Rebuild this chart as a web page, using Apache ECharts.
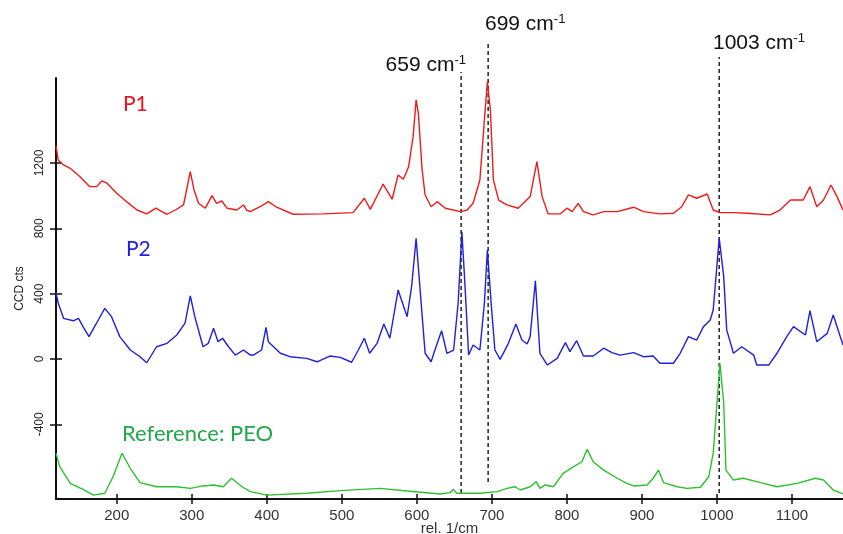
<!DOCTYPE html>
<html>
<head>
<meta charset="utf-8">
<script src="https://cdn.jsdelivr.net/npm/echarts@6/dist/echarts.min.js"></script>
<style>
  html, body { margin: 0; padding: 0; background: #fff; }
  #main { width: 843px; height: 534px; }
</style>
</head>
<body>
<div id="main"></div>
<script>
// Raman spectra, [wavenumber (rel. 1/cm), CCD counts]
var p1Points = [
  [119, 1304], [122, 1218], [129, 1188], [138, 1167], [151, 1116], [164, 1055], [173, 1055],
  [180, 1090], [187, 1076], [200, 1014], [213, 963], [227, 912], [240, 888], [252, 923],
  [260, 902], [267, 886], [278, 912], [289, 943], [298, 1147], [303, 1035], [309, 953],
  [318, 923], [327, 1000], [333, 953], [340, 967], [347, 923], [360, 912], [369, 943],
  [373, 912], [378, 902], [391, 932], [402, 963], [413, 929], [435, 886], [475, 888],
  [515, 896], [530, 984], [538, 916], [555, 1071], [567, 978], [575, 1126], [582, 1100],
  [589, 1177], [595, 1361], [599, 1586], [602, 1504], [607, 1157], [611, 1004], [619, 932],
  [627, 963], [629, 969], [638, 923], [658, 902], [667, 912], [675, 953], [684, 1096],
  [690, 1463], [694, 1698], [698, 1524], [702, 1096], [709, 973], [720, 943], [735, 923],
  [742, 953], [751, 994], [760, 1208], [767, 994], [775, 888], [791, 888], [800, 923],
  [807, 902], [815, 953], [822, 902], [835, 882], [849, 902], [867, 902], [889, 929],
  [902, 902], [924, 888], [942, 892], [953, 932], [962, 1004], [973, 984], [987, 1010],
  [995, 912], [1004, 896], [1022, 896], [1040, 892], [1071, 882], [1084, 912], [1098, 973],
  [1115, 973], [1124, 1055], [1133, 932], [1142, 973], [1152, 1065], [1160, 994], [1168, 912]
];

var p2Points = [
  [119, 406], [122, 341], [129, 249], [142, 234], [149, 249], [155, 198], [163, 137],
  [173, 219], [184, 310], [193, 259], [204, 137], [218, 55], [231, 14], [240, -23],
  [253, 75], [267, 96], [280, 147], [291, 219], [298, 386], [304, 259], [315, 75],
  [322, 96], [329, 188], [335, 106], [341, 127], [349, 75], [358, 24], [369, 55],
  [378, 24], [382, 24], [393, 55], [399, 194], [402, 106], [409, 75], [418, 35],
  [431, 14], [453, 4], [467, -17], [484, 18], [498, 10], [513, -20], [522, 55],
  [530, 127], [537, 35], [547, 96], [556, 214], [564, 127], [575, 422], [587, 259],
  [593, 443], [599, 739], [604, 443], [611, 35], [619, -17], [624, 55], [633, 173],
  [640, 35], [649, 55], [655, 341], [660, 779], [664, 463], [669, 24], [675, 86],
  [684, 55], [690, 341], [694, 667], [699, 341], [704, 55], [711, -2], [722, 96],
  [732, 214], [740, 116], [747, 92], [751, 137], [758, 479], [764, 35], [774, -37],
  [787, 4], [798, 100], [804, 45], [813, 112], [822, 18], [835, 18], [849, 66],
  [860, 39], [871, 24], [889, 39], [902, 14], [915, 18], [924, -26], [942, -26],
  [951, 35], [962, 137], [973, 116], [982, 198], [991, 239], [995, 300], [1003, 739],
  [1009, 504], [1013, 178], [1022, 35], [1033, 75], [1049, 24], [1053, -37], [1069, -37],
  [1080, 35], [1093, 137], [1102, 198], [1118, 147], [1124, 296], [1133, 106], [1147, 157],
  [1155, 269], [1168, 86]
];

var peoPoints = [
  [119, -577], [124, -659], [138, -761], [155, -798], [169, -833], [184, -822], [195, -721],
  [207, -577], [218, -669], [231, -757], [253, -782], [280, -782], [298, -792], [315, -777],
  [329, -771], [342, -782], [353, -730], [367, -782], [378, -812], [400, -833], [453, -822],
  [498, -806], [551, -792], [587, -808], [631, -826], [644, -818], [649, -798], [653, -822],
  [684, -822], [707, -812], [720, -792], [731, -782], [738, -802], [751, -782], [759, -751],
  [764, -792], [771, -771], [782, -782], [795, -700], [809, -659], [820, -629], [827, -553],
  [835, -629], [849, -680], [867, -730], [880, -761], [889, -777], [907, -771], [915, -730],
  [922, -680], [929, -757], [947, -782], [960, -792], [978, -785], [989, -721], [995, -577],
  [1000, -271], [1004, -26], [1009, -271], [1012, -680], [1022, -741], [1035, -730],
  [1058, -757], [1080, -782], [1107, -761], [1131, -730], [1142, -741], [1155, -802], [1168, -826]
];

// dashed marker lines: wavenumber, bottom and top of the dash
var markerWavenumbers = [659, 695, 1003];
var markerBottoms = [-820, -753, -820];
var markerTops = [1757, 1947, 1849];

var xTicks = [200, 300, 400, 500, 600, 700, 800, 900, 1000, 1100];
var yTicks = [-400, 0, 400, 800, 1200];

var chart = echarts.init(document.getElementById('main'), null, { renderer: 'canvas' });

var markerSeries = markerWavenumbers.map(function (w, i) {
  return {
    type: 'line',
    xAxisIndex: 2,
    yAxisIndex: 2,
    data: [[w, markerBottoms[i]], [w, markerTops[i]]],
    symbol: 'none',
    silent: true,
    lineStyle: { color: '#222', width: 1.5, type: [4, 3] },
    z: 1
  };
});

var axisFont = 'Liberation Sans, Arial, sans-serif';
var plain = function (v) { return String(v); };

var option = {
  backgroundColor: '#fff',
  animation: false,
  grid: [
    { left: 56, right: 0, top: 78, bottom: 35, outerBoundsMode: 'none', containLabel: false },
    { left: 56, right: 0, top: 30, bottom: 35, outerBoundsMode: 'none', containLabel: false }
  ],
  xAxis: [
    {
      type: 'value', gridIndex: 0, position: 'bottom',
      min: 119, max: 1168,
      name: 'rel. 1/cm', nameLocation: 'middle', nameGap: 22, nameMoveOverlap: false,
      nameTextStyle: { fontFamily: axisFont, fontSize: 15, color: '#333', verticalAlign: 'top' },
      axisLine: { onZero: false, lineStyle: { color: '#111', width: 2 } },
      axisTick: { customValues: xTicks, length: 5, lineStyle: { color: '#111', width: 1.5 } },
      axisLabel: { customValues: xTicks, formatter: plain, fontFamily: axisFont, fontSize: 15, color: '#333', margin: 9 },
      splitLine: { show: false }
    },
    {
      type: 'value', gridIndex: 0, position: 'bottom',
      min: 119, max: 1168,
      axisLine: { show: false, onZero: false },
      axisTick: { customValues: xTicks, inside: true, length: 5, lineStyle: { color: '#111', width: 1.5 } },
      axisLabel: { show: false },
      splitLine: { show: false }
    },
    { type: 'value', gridIndex: 1, min: 119, max: 1168, show: false }
  ],
  yAxis: [
    {
      type: 'value', gridIndex: 0, position: 'left',
      min: -857, max: 1720,
      name: 'CCD cts', nameLocation: 'middle', nameGap: 30, nameRotate: 90, nameMoveOverlap: false,
      nameTextStyle: { fontFamily: axisFont, fontSize: 12, color: '#222' },
      axisLine: { show: true, onZero: false, lineStyle: { color: '#111', width: 2 } },
      axisTick: { show: true, customValues: yTicks, length: 6, lineStyle: { color: '#111', width: 1.5 } },
      axisLabel: { customValues: yTicks, formatter: plain, rotate: 90, fontFamily: axisFont, fontSize: 12, color: '#222', margin: 10 },
      splitLine: { show: false }
    },
    {
      type: 'value', gridIndex: 0, position: 'left',
      min: -857, max: 1720,
      axisLine: { show: false, onZero: false },
      axisTick: { show: true, customValues: yTicks, inside: true, length: 6, lineStyle: { color: '#111', width: 1.5 } },
      axisLabel: { show: false },
      splitLine: { show: false }
    },
    { type: 'value', gridIndex: 1, min: -857, max: 2014, show: false }
  ],
  graphic: [
    { type: 'text', left: 123, top: 94, style: { text: 'P1', font: '21px Lato, sans-serif', fill: '#e8141e' } },
    { type: 'text', left: 126, top: 239, style: { text: 'P2', font: '21px Lato, sans-serif', fill: '#1f1fe0' } },
    { type: 'text', left: 122, top: 423, style: { text: 'Reference: PEO', font: '22px Lato, sans-serif', fill: '#22a84a' } },
    {
      type: 'text', right: 843 - 466, top: 54,
      style: {
        text: '{a|659 cm}{s|-1}', fill: '#111',
        rich: { a: { font: '21px ' + axisFont, fill: '#111' }, s: { font: '13px ' + axisFont, fill: '#111', verticalAlign: 'top', padding: [0, 0, 10, 0] } }
      }
    },
    {
      type: 'text', left: 485, top: 13,
      style: {
        text: '{a|699 cm}{s|-1}', fill: '#111',
        rich: { a: { font: '21px ' + axisFont, fill: '#111' }, s: { font: '13px ' + axisFont, fill: '#111', verticalAlign: 'top', padding: [0, 0, 10, 0] } }
      }
    },
    {
      type: 'text', left: 713, top: 32,
      style: {
        text: '{a|1003 cm}{s|-1}', fill: '#111',
        rich: { a: { font: '21px ' + axisFont, fill: '#111' }, s: { font: '13px ' + axisFont, fill: '#111', verticalAlign: 'top', padding: [0, 0, 10, 0] } }
      }
    }
  ],
  series: [
    {
      name: 'P1', type: 'line', data: p1Points, symbol: 'none',
      lineStyle: { color: '#f01a1a', width: 1.4 }, z: 3
    },
    {
      name: 'P2', type: 'line', data: p2Points, symbol: 'none',
      lineStyle: { color: '#1f1fdc', width: 1.4 }, z: 3
    },
    {
      name: 'Reference: PEO', type: 'line', data: peoPoints, symbol: 'none',
      lineStyle: { color: '#2ec02e', width: 1.4 }, z: 3
    }
  ].concat(markerSeries)
};

chart.setOption(option);
</script>
</body>
</html>
